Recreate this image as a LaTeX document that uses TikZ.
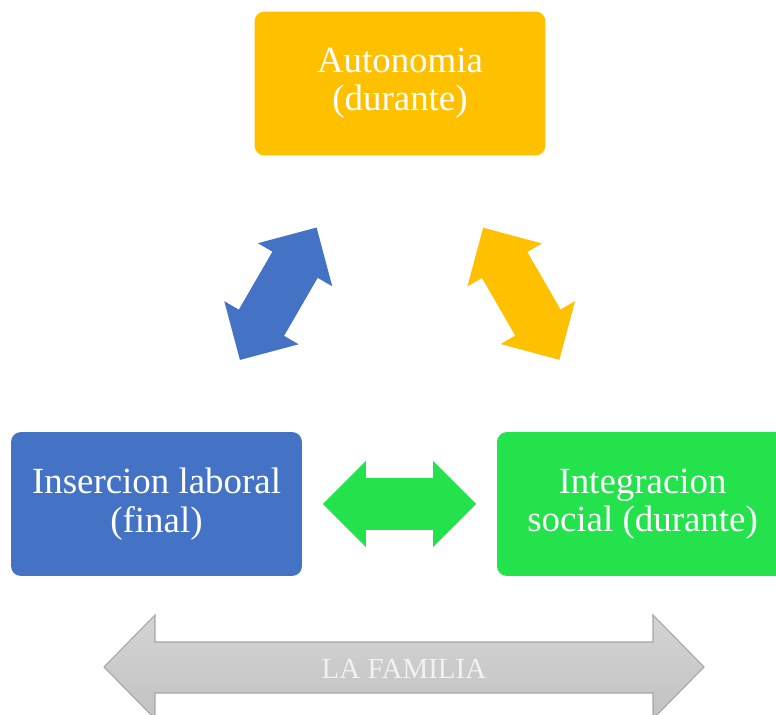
\documentclass[tikz,border=0pt]{standalone}
\usepackage{fontspec}
\setmainfont{Liberation Serif}
\usetikzlibrary{arrows.meta}
\definecolor{autcol}{HTML}{FFC000}
\definecolor{inscol}{HTML}{4472C4}
\definecolor{intcol}{HTML}{23E24C}
\definecolor{famtop}{HTML}{D4D4D4}
\definecolor{fambot}{HTML}{C2C2C2}
\definecolor{famline}{HTML}{A6A6A6}
\tikzset{punta/.tip={Triangle[length=0.86cm, width=1.72cm, line width=0pt]}}

\begin{document}
\begin{tikzpicture}[x=0.02cm, y=-0.02cm,
  caja/.style={rectangle, rounded corners=0.2cm, minimum width=5.82cm, minimum height=2.88cm,
    align=center, text=white, inner sep=0pt, font=\fontsize{21}{21.8}\selectfont},
  flecha/.style={line width=1.04cm, shorten <=3.33cm, shorten >=3.33cm, punta-punta,
    postaction={draw, arrows=-, shorten <=4.05cm, shorten >=4.05cm}}]
  \clip (0,0) rectangle (776,715);
  \node[caja, fill=autcol] (aut) at (400,83.5) {Autonomia\\(durante)};
  \node[caja, fill=inscol] (ins) at (156.5,504) {Insercion laboral\\(final)};
  \node[caja, fill=intcol] (int) at (642.5,504) {Integracion\\social (durante)};
	\draw[flecha, inscol] (ins.center) -- (aut.center);
	\draw[flecha, autcol] (aut.center) -- (int.center);
	\draw[flecha, intcol] (ins.center) -- (int.center);
  \shade[top color=famtop, bottom color=fambot, draw=famline, line width=0.6pt]
    (104,667) -- (155,615) -- (155,642) -- (653,642) -- (653,615) -- (704,667)
    -- (653,719) -- (653,693) -- (155,693) -- (155,719) -- cycle;
  \node[text=white!95!black, font=\fontsize{16.5}{18}\selectfont, inner sep=0pt] (fam) at (404,668.5) {LA FAMILIA};
\end{tikzpicture}
\end{document}
